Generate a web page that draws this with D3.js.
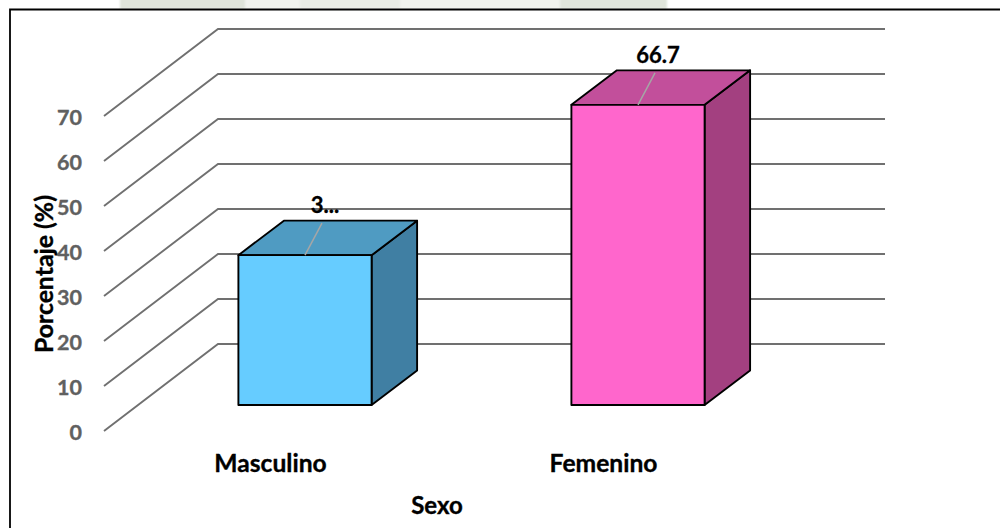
<!DOCTYPE html>
<html lang="es">
<head>
<meta charset="utf-8">
<title>Porcentaje por sexo</title>
<script src="https://cdn.jsdelivr.net/npm/d3@7/dist/d3.min.js"></script>
<style>
  html, body { margin: 0; padding: 0; background: #fff; }
  svg { display: block; }
  text { font-family: Lato, "Open Sans", sans-serif; font-weight: 700; stroke: currentColor; stroke-width: 0.35px; }
</style>
</head>
<body>
<div id="chart"></div>
<script>
const categories = ["Masculino", "Femenino"];
const values = [33.3, 66.7];
const valueLabels = ["3...", "66.7"];
const yTicks = [0, 10, 20, 30, 40, 50, 60, 70];
const frontColors = ["#66CCFF", "#FF66CC"];
const topColors = ["#4F9BC2", "#C24F9B"];
const sideColors = ["#407FA3", "#A34080"];

const width = 1000, height = 528;
const svg = d3.select("#chart").append("svg")
  .attr("width", width).attr("height", height);

// Pale header band that sits above the frame
const bandStops = [[120, 245, "#dfe4da"], [245, 300, "#f1f3ee"], [300, 400, "#e9ece5"], [400, 560, "#f1f3ee"], [560, 667, "#e0e5db"]];
const bandBlur = svg.append("defs").append("filter").attr("id", "soft");
bandBlur.append("feGaussianBlur").attr("stdDeviation", 1.2);
svg.append("g").attr("filter", "url(#soft)").selectAll("rect").data(bandStops).join("rect")
  .attr("x", d => d[0]).attr("y", -4)
  .attr("width", d => d[1] - d[0]).attr("height", 13)
  .attr("fill", d => d[2]);

// Frame: top and left rules only
svg.append("path")
  .attr("d", d3.line()([[10, 528], [10, 9.5], [1000, 9.5]]))
  .attr("fill", "none").attr("stroke", "#000").attr("stroke-width", 1.8);

// Value scale along the front edge of the chart floor
const y = d3.scaleLinear().domain([0, 70]).range([431, 116]);

// Oblique offset from the front plane to the back wall, and the wall's right end
const wall = { dx: 114, dy: -87, xEnd: 885, xFront: 104 };

const grid = svg.append("g").attr("fill", "none").attr("stroke", "#707070").attr("stroke-width", 1.9);
grid.selectAll("path").data(yTicks).join("path")
  .attr("d", t => d3.line()([
    [wall.xFront, y(t)],
    [wall.xFront + wall.dx, y(t) + wall.dy],
    [wall.xEnd, y(t) + wall.dy]
  ]));

// Value axis labels
const yAxis = d3.axisLeft(y).tickValues(yTicks).tickSize(0).tickPadding(0);
const axisG = svg.append("g").attr("transform", "translate(82,2)").call(yAxis);
axisG.select(".domain").remove();
axisG.selectAll("text")
  .attr("fill", "#606060")
  .style("color", "#606060")
  .style("font-size", "21.5px")
  .style("font-family", "Lato, sans-serif")
  .style("font-weight", 700);

// Category positions on the bars' front plane
const x = d3.scaleBand().domain(categories).range([138.5, 804.5])
  .paddingInner(0.6).paddingOuter(0.3);
const barBase = 405;
const depth = { dx: 45.5, dy: -34.5 };
const barTop = v => barBase + y(v) - y(0);

const bars = svg.append("g").selectAll("g")
  .data(categories.map((c, i) => ({ c, i, v: values[i] })))
  .join("g")
  .attr("stroke", "#000").attr("stroke-width", 1.9).attr("stroke-linejoin", "round");

const poly = pts => d3.line()(pts) + "Z";

// Side face
bars.append("path").attr("fill", d => sideColors[d.i]).attr("d", d => {
  const r = x(d.c) + x.bandwidth(), t = barTop(d.v);
  return poly([[r, t], [r + depth.dx, t + depth.dy], [r + depth.dx, barBase + depth.dy], [r, barBase]]);
});
// Top face
bars.append("path").attr("fill", d => topColors[d.i]).attr("d", d => {
  const l = x(d.c), r = l + x.bandwidth(), t = barTop(d.v);
  return poly([[l, t], [l + depth.dx, t + depth.dy], [r + depth.dx, t + depth.dy], [r, t]]);
});
// Front face
bars.append("path").attr("fill", d => frontColors[d.i]).attr("d", d => {
  const l = x(d.c), r = l + x.bandwidth(), t = barTop(d.v);
  return poly([[l, t], [r, t], [r, barBase], [l, barBase]]);
});

// Leader lines from each bar to its value label
bars.append("line")
  .attr("stroke", "#a6a6a6").attr("stroke-width", 1.5)
  .attr("x1", d => x(d.c) + x.bandwidth() / 2)
  .attr("y1", d => barTop(d.v))
  .attr("x2", d => x(d.c) + x.bandwidth() / 2 + 17)
  .attr("y2", d => barTop(d.v) - 32);

// Value labels
svg.append("g").selectAll("text").data(categories).join("text")
  .attr("x", c => x(c) + x.bandwidth() / 2 + 20)
  .attr("y", (c, i) => barTop(values[i]) - 42)
  .attr("text-anchor", "middle").attr("fill", "#000").style("color", "#000")
  .style("font-size", "22px")
  .text((c, i) => valueLabels[i]);

// Category labels
svg.append("g").selectAll("text").data(categories).join("text")
  .attr("x", c => x(c) + x.bandwidth() / 2 - depth.dx + 11)
  .attr("y", 472)
  .attr("text-anchor", "middle").attr("fill", "#000").style("color", "#000")
  .style("font-size", "24.6px")
  .text(c => c);

// Axis titles
svg.append("text").attr("x", 437).attr("y", 514)
  .attr("text-anchor", "middle").attr("fill", "#000").style("color", "#000")
  .style("font-size", "24px").text("Sexo");
svg.append("text")
  .attr("transform", "translate(52.5,274) rotate(-90)")
  .attr("text-anchor", "middle").attr("fill", "#000").style("color", "#000")
  .style("font-size", "24.8px").text("Porcentaje (%)");
</script>
</body>
</html>
